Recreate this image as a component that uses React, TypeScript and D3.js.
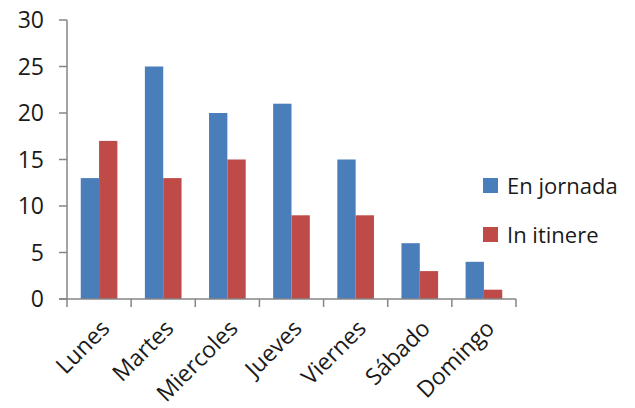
import React from "react";
import * as d3 from "d3";

const categories = ["Lunes", "Martes", "Miercoles", "Jueves", "Viernes", "Sábado", "Domingo"];
const enJornada = [13, 25, 20, 21, 15, 6, 4];
const inItinere = [17, 13, 15, 9, 9, 3, 1];
const seriesNames = ["En jornada", "In itinere"];
const yTicks = [0, 5, 10, 15, 20, 25, 30];

const W = 635, H = 408;
const left = 67, right = 516, top = 20, bottom = 299;
const colors = ["#4A7EBB", "#BE4B48"];
const FONT = "'Open Sans', sans-serif";

export default function App() {
  const x = d3.scaleBand().domain(categories).range([left, right]).paddingInner(0).paddingOuter(0);
  const y = d3.scaleLinear().domain([0, 30]).range([bottom, top]);
  const bw = x.bandwidth();
  const barW = bw / 3.5;
  const off = barW * 0.75;
  const series = [enJornada, inItinere];
  return (
    <svg width={W} height={H} style={{ position: "absolute", left: 0, top: 0, background: "#fff" }}>
      {series.map((vals, s) =>
        vals.map((v, i) => (
          <rect key={`${s}-${i}`} x={x(categories[i])! + off + s * barW} y={y(v)} width={barW} height={y(0) - y(v)} fill={colors[s]} />
        ))
      )}
      <line x1={left} x2={left} y1={top} y2={bottom} stroke="#868686" strokeWidth={1.5} />
      <line x1={left - 8} x2={right} y1={bottom} y2={bottom} stroke="#868686" strokeWidth={1.5} />
      {yTicks.map((t) => (
        <g key={t}>
          <line x1={left - 8} x2={left} y1={y(t)} y2={y(t)} stroke="#868686" strokeWidth={1.5} />
          <text x={44} y={y(t)} dy="0.36em" textAnchor="end" fontFamily={FONT} fontSize={23} fill="#1a1a1a">{t}</text>
        </g>
      ))}
      {d3.range(categories.length + 1).map((i) => (
        <line key={i} x1={left + i * bw} x2={left + i * bw} y1={bottom} y2={bottom + 8} stroke="#868686" strokeWidth={1.5} />
      ))}
      {categories.map((c) => {
        const cx = x(c)! + bw / 2 + 6;
        const cy = bottom + 25;
        return (
          <text key={c} transform={`translate(${cx},${cy}) rotate(-45)`} textAnchor="end" dy="0.36em" fontFamily={FONT} fontSize={23} fill="#1a1a1a">{c}</text>
        );
      })}
      {seriesNames.map((n, i) => (
        <g key={n} transform={`translate(483,${178 + i * 49})`}>
          <rect x={0} y={0} width={15} height={15} fill={colors[i]} />
          <text x={24} y={8} dy="0.36em" fontFamily={FONT} fontSize={22} fill="#1a1a1a">{n}</text>
        </g>
      ))}
    </svg>
  );
}
